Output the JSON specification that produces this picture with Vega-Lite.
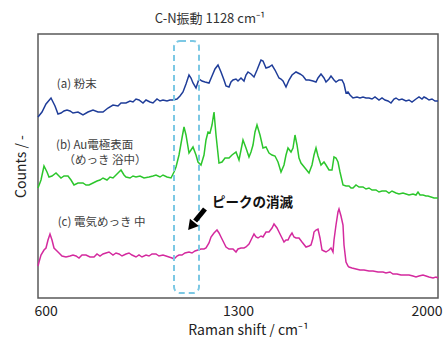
{
  "$schema": "https://vega.github.io/schema/vega-lite/v6.json",
  "width": 400,
  "height": 264,
  "autosize": {"type": "none"},
  "padding": {"left": 38, "top": 34, "right": 6, "bottom": 39},
  "title": {"text": "C-N振動 1128 cm⁻¹", "fontSize": 13, "fontWeight": "normal", "color": "#333333", "dx": -28, "offset": 8},
  "config": {
    "font": "Noto Sans CJK JP",
    "view": {"stroke": "#595959", "strokeWidth": 1.5},
    "axis": {"grid": false, "labelColor": "#222222", "titleColor": "#222222"}
  },
  "datasets": {
    "spectra": [
      {"s":"a","x":600,"y":181},{"s":"a","x":614,"y":186},{"s":"a","x":628,"y":194},{"s":"a","x":645.5,"y":200},{"s":"a","x":659.5,"y":192},{"s":"a","x":670,"y":184},{"s":"a","x":680.5,"y":185},{"s":"a","x":691,"y":187},{"s":"a","x":701.5,"y":188},{"s":"a","x":712,"y":187},{"s":"a","x":722.5,"y":185},{"s":"a","x":740,"y":186},{"s":"a","x":757.5,"y":183},{"s":"a","x":775,"y":186},{"s":"a","x":792.5,"y":188},{"s":"a","x":810,"y":186},{"s":"a","x":827.5,"y":186},{"s":"a","x":845,"y":190},{"s":"a","x":862.5,"y":193},{"s":"a","x":880,"y":192},{"s":"a","x":890.5,"y":195},{"s":"a","x":908,"y":195},{"s":"a","x":922,"y":197},{"s":"a","x":932.5,"y":196},{"s":"a","x":943,"y":199},{"s":"a","x":953.5,"y":198},{"s":"a","x":967.5,"y":195},{"s":"a","x":978,"y":198},{"s":"a","x":992,"y":196},{"s":"a","x":1002.5,"y":195},{"s":"a","x":1016.5,"y":199},{"s":"a","x":1027,"y":197},{"s":"a","x":1037.5,"y":198},{"s":"a","x":1051.5,"y":197},{"s":"a","x":1062,"y":198},{"s":"a","x":1072.5,"y":198},{"s":"a","x":1086.5,"y":199},{"s":"a","x":1097,"y":202},{"s":"a","x":1107.5,"y":206},{"s":"a","x":1118,"y":214},{"s":"a","x":1128.5,"y":223},{"s":"a","x":1135.5,"y":220},{"s":"a","x":1142.5,"y":215},{"s":"a","x":1153,"y":210},{"s":"a","x":1163.5,"y":219},{"s":"a","x":1174,"y":217},{"s":"a","x":1184.5,"y":216},{"s":"a","x":1198.5,"y":215},{"s":"a","x":1209,"y":222},{"s":"a","x":1219.5,"y":229},{"s":"a","x":1230,"y":233},{"s":"a","x":1240.5,"y":226},{"s":"a","x":1251,"y":218},{"s":"a","x":1258,"y":212},{"s":"a","x":1268.5,"y":211},{"s":"a","x":1275.5,"y":216},{"s":"a","x":1282.5,"y":218},{"s":"a","x":1293,"y":219},{"s":"a","x":1300,"y":217},{"s":"a","x":1310.5,"y":220},{"s":"a","x":1321,"y":217},{"s":"a","x":1328,"y":223},{"s":"a","x":1335,"y":226},{"s":"a","x":1345.5,"y":224},{"s":"a","x":1356,"y":221},{"s":"a","x":1366.5,"y":228},{"s":"a","x":1373.5,"y":233},{"s":"a","x":1380.5,"y":238},{"s":"a","x":1387.5,"y":237},{"s":"a","x":1398,"y":230},{"s":"a","x":1408.5,"y":231},{"s":"a","x":1419,"y":233},{"s":"a","x":1429.5,"y":228},{"s":"a","x":1443.5,"y":220},{"s":"a","x":1450.5,"y":219},{"s":"a","x":1457.5,"y":217},{"s":"a","x":1468,"y":211},{"s":"a","x":1478.5,"y":218},{"s":"a","x":1489,"y":223},{"s":"a","x":1503,"y":226},{"s":"a","x":1517,"y":224},{"s":"a","x":1527.5,"y":222},{"s":"a","x":1538,"y":218},{"s":"a","x":1548.5,"y":218},{"s":"a","x":1562.5,"y":217},{"s":"a","x":1573,"y":216},{"s":"a","x":1580,"y":220},{"s":"a","x":1590.5,"y":224},{"s":"a","x":1601,"y":220},{"s":"a","x":1608,"y":216},{"s":"a","x":1618.5,"y":219},{"s":"a","x":1625.5,"y":222},{"s":"a","x":1636,"y":218},{"s":"a","x":1643,"y":216},{"s":"a","x":1653.5,"y":218},{"s":"a","x":1664,"y":218},{"s":"a","x":1671,"y":214},{"s":"a","x":1678,"y":205},{"s":"a","x":1685,"y":206},{"s":"a","x":1692,"y":203},{"s":"a","x":1702.5,"y":200},{"s":"a","x":1716.5,"y":201},{"s":"a","x":1727,"y":200},{"s":"a","x":1737.5,"y":201},{"s":"a","x":1748,"y":200},{"s":"a","x":1758.5,"y":200},{"s":"a","x":1769,"y":199},{"s":"a","x":1779.5,"y":201},{"s":"a","x":1793.5,"y":198},{"s":"a","x":1804,"y":200},{"s":"a","x":1814.5,"y":198},{"s":"a","x":1825,"y":197},{"s":"a","x":1835.5,"y":195},{"s":"a","x":1846,"y":199},{"s":"a","x":1853,"y":200},{"s":"a","x":1863.5,"y":198},{"s":"a","x":1874,"y":199},{"s":"a","x":1888,"y":197},{"s":"a","x":1898.5,"y":198},{"s":"a","x":1909,"y":196},{"s":"a","x":1923,"y":199},{"s":"a","x":1933.5,"y":201},{"s":"a","x":1944,"y":199},{"s":"a","x":1951,"y":201},{"s":"a","x":1958,"y":200},{"s":"a","x":1968.5,"y":198},{"s":"a","x":1979,"y":199},{"s":"a","x":1989.5,"y":197},{"s":"a","x":2000,"y":197},
      {"s":"b","x":600,"y":110},{"s":"b","x":610.5,"y":118},{"s":"b","x":621,"y":132},{"s":"b","x":631.5,"y":126},{"s":"b","x":638.5,"y":121},{"s":"b","x":649,"y":122},{"s":"b","x":663,"y":125},{"s":"b","x":673.5,"y":122},{"s":"b","x":680.5,"y":120},{"s":"b","x":691,"y":122},{"s":"b","x":705,"y":122},{"s":"b","x":715.5,"y":118},{"s":"b","x":726,"y":113},{"s":"b","x":740,"y":115},{"s":"b","x":757.5,"y":115},{"s":"b","x":768,"y":113},{"s":"b","x":778.5,"y":113},{"s":"b","x":792.5,"y":115},{"s":"b","x":806.5,"y":117},{"s":"b","x":817,"y":118},{"s":"b","x":827.5,"y":120},{"s":"b","x":841.5,"y":118},{"s":"b","x":852,"y":121},{"s":"b","x":862.5,"y":120},{"s":"b","x":873,"y":123},{"s":"b","x":883.5,"y":126},{"s":"b","x":890.5,"y":128},{"s":"b","x":901,"y":123},{"s":"b","x":908,"y":121},{"s":"b","x":922,"y":120},{"s":"b","x":932.5,"y":122},{"s":"b","x":943,"y":121},{"s":"b","x":957,"y":122},{"s":"b","x":971,"y":120},{"s":"b","x":988.5,"y":121},{"s":"b","x":1002.5,"y":122},{"s":"b","x":1013,"y":123},{"s":"b","x":1027,"y":121},{"s":"b","x":1037.5,"y":123},{"s":"b","x":1051.5,"y":121},{"s":"b","x":1065.5,"y":120},{"s":"b","x":1076,"y":126},{"s":"b","x":1083,"y":131},{"s":"b","x":1093.5,"y":143},{"s":"b","x":1104,"y":160},{"s":"b","x":1111,"y":171},{"s":"b","x":1118,"y":163},{"s":"b","x":1128.5,"y":145},{"s":"b","x":1135.5,"y":148},{"s":"b","x":1142.5,"y":151},{"s":"b","x":1153,"y":143},{"s":"b","x":1160,"y":136},{"s":"b","x":1170.5,"y":133},{"s":"b","x":1181,"y":143},{"s":"b","x":1188,"y":158},{"s":"b","x":1195,"y":166},{"s":"b","x":1202,"y":165},{"s":"b","x":1209,"y":173},{"s":"b","x":1216,"y":186},{"s":"b","x":1223,"y":163},{"s":"b","x":1233.5,"y":135},{"s":"b","x":1244,"y":136},{"s":"b","x":1254.5,"y":140},{"s":"b","x":1268.5,"y":140},{"s":"b","x":1279,"y":143},{"s":"b","x":1293,"y":146},{"s":"b","x":1303.5,"y":138},{"s":"b","x":1310.5,"y":148},{"s":"b","x":1317.5,"y":158},{"s":"b","x":1328,"y":150},{"s":"b","x":1338.5,"y":141},{"s":"b","x":1345.5,"y":146},{"s":"b","x":1352.5,"y":153},{"s":"b","x":1359.5,"y":166},{"s":"b","x":1366.5,"y":173},{"s":"b","x":1377,"y":163},{"s":"b","x":1387.5,"y":150},{"s":"b","x":1398,"y":151},{"s":"b","x":1408.5,"y":145},{"s":"b","x":1419,"y":143},{"s":"b","x":1429.5,"y":142},{"s":"b","x":1440,"y":136},{"s":"b","x":1450.5,"y":126},{"s":"b","x":1461,"y":133},{"s":"b","x":1468,"y":143},{"s":"b","x":1475,"y":150},{"s":"b","x":1485.5,"y":146},{"s":"b","x":1492.5,"y":150},{"s":"b","x":1499.5,"y":163},{"s":"b","x":1506.5,"y":153},{"s":"b","x":1513.5,"y":140},{"s":"b","x":1520.5,"y":135},{"s":"b","x":1534.5,"y":130},{"s":"b","x":1548.5,"y":125},{"s":"b","x":1559,"y":133},{"s":"b","x":1566,"y":143},{"s":"b","x":1573,"y":150},{"s":"b","x":1580,"y":142},{"s":"b","x":1590.5,"y":133},{"s":"b","x":1601,"y":136},{"s":"b","x":1608,"y":133},{"s":"b","x":1618.5,"y":128},{"s":"b","x":1629,"y":128},{"s":"b","x":1636,"y":141},{"s":"b","x":1643,"y":140},{"s":"b","x":1650,"y":136},{"s":"b","x":1657,"y":126},{"s":"b","x":1667.5,"y":113},{"s":"b","x":1678,"y":112},{"s":"b","x":1688.5,"y":112},{"s":"b","x":1695.5,"y":110},{"s":"b","x":1702.5,"y":110},{"s":"b","x":1713,"y":113},{"s":"b","x":1723.5,"y":111},{"s":"b","x":1737.5,"y":111},{"s":"b","x":1748,"y":109},{"s":"b","x":1758.5,"y":110},{"s":"b","x":1769,"y":108},{"s":"b","x":1783,"y":108},{"s":"b","x":1793.5,"y":106},{"s":"b","x":1804,"y":107},{"s":"b","x":1818,"y":107},{"s":"b","x":1828.5,"y":105},{"s":"b","x":1839,"y":107},{"s":"b","x":1853,"y":105},{"s":"b","x":1863.5,"y":104},{"s":"b","x":1877.5,"y":105},{"s":"b","x":1888,"y":104},{"s":"b","x":1898.5,"y":103},{"s":"b","x":1912.5,"y":104},{"s":"b","x":1923,"y":103},{"s":"b","x":1930,"y":106},{"s":"b","x":1937,"y":103},{"s":"b","x":1947.5,"y":103},{"s":"b","x":1958,"y":102},{"s":"b","x":1965,"y":102},{"s":"b","x":1975.5,"y":101},{"s":"b","x":1986,"y":100},{"s":"b","x":2000,"y":100},
      {"s":"c","x":600,"y":32},{"s":"c","x":603.5,"y":36},{"s":"c","x":610.5,"y":43},{"s":"c","x":621,"y":48},{"s":"c","x":628,"y":50},{"s":"c","x":635,"y":58},{"s":"c","x":642,"y":64},{"s":"c","x":649,"y":58},{"s":"c","x":656,"y":50},{"s":"c","x":666.5,"y":47},{"s":"c","x":673.5,"y":45},{"s":"c","x":684,"y":42},{"s":"c","x":698,"y":41},{"s":"c","x":712,"y":42},{"s":"c","x":722.5,"y":43},{"s":"c","x":733,"y":42},{"s":"c","x":743.5,"y":40},{"s":"c","x":754,"y":43},{"s":"c","x":768,"y":43},{"s":"c","x":782,"y":41},{"s":"c","x":796,"y":41},{"s":"c","x":806.5,"y":44},{"s":"c","x":817,"y":42},{"s":"c","x":827.5,"y":44},{"s":"c","x":838,"y":45},{"s":"c","x":848.5,"y":46},{"s":"c","x":862.5,"y":43},{"s":"c","x":873,"y":45},{"s":"c","x":883.5,"y":44},{"s":"c","x":894,"y":42},{"s":"c","x":908,"y":44},{"s":"c","x":918.5,"y":45},{"s":"c","x":929,"y":43},{"s":"c","x":943,"y":41},{"s":"c","x":953.5,"y":43},{"s":"c","x":964,"y":41},{"s":"c","x":978,"y":43},{"s":"c","x":988.5,"y":42},{"s":"c","x":999,"y":44},{"s":"c","x":1013,"y":44},{"s":"c","x":1023.5,"y":42},{"s":"c","x":1037.5,"y":43},{"s":"c","x":1048,"y":42},{"s":"c","x":1058.5,"y":41},{"s":"c","x":1069,"y":40},{"s":"c","x":1076,"y":39},{"s":"c","x":1086.5,"y":42},{"s":"c","x":1093.5,"y":43},{"s":"c","x":1104,"y":43},{"s":"c","x":1114.5,"y":45},{"s":"c","x":1128.5,"y":46},{"s":"c","x":1139,"y":45},{"s":"c","x":1149.5,"y":47},{"s":"c","x":1160,"y":48},{"s":"c","x":1170.5,"y":49},{"s":"c","x":1181,"y":49},{"s":"c","x":1188,"y":50},{"s":"c","x":1198.5,"y":55},{"s":"c","x":1205.5,"y":61},{"s":"c","x":1216,"y":65},{"s":"c","x":1226.5,"y":68},{"s":"c","x":1233.5,"y":65},{"s":"c","x":1240.5,"y":61},{"s":"c","x":1251,"y":55},{"s":"c","x":1258,"y":51},{"s":"c","x":1268.5,"y":49},{"s":"c","x":1282.5,"y":49},{"s":"c","x":1293,"y":46},{"s":"c","x":1300,"y":49},{"s":"c","x":1310.5,"y":50},{"s":"c","x":1321,"y":50},{"s":"c","x":1328,"y":51},{"s":"c","x":1338.5,"y":54},{"s":"c","x":1345.5,"y":58},{"s":"c","x":1356,"y":64},{"s":"c","x":1363,"y":61},{"s":"c","x":1370,"y":60},{"s":"c","x":1380.5,"y":62},{"s":"c","x":1387.5,"y":61},{"s":"c","x":1398,"y":66},{"s":"c","x":1408.5,"y":66},{"s":"c","x":1419,"y":70},{"s":"c","x":1426,"y":74},{"s":"c","x":1436.5,"y":70},{"s":"c","x":1443.5,"y":66},{"s":"c","x":1454,"y":60},{"s":"c","x":1461,"y":56},{"s":"c","x":1468,"y":58},{"s":"c","x":1475,"y":58},{"s":"c","x":1482,"y":62},{"s":"c","x":1489,"y":65},{"s":"c","x":1496,"y":61},{"s":"c","x":1503,"y":60},{"s":"c","x":1513.5,"y":60},{"s":"c","x":1524,"y":56},{"s":"c","x":1538,"y":51},{"s":"c","x":1548.5,"y":52},{"s":"c","x":1555.5,"y":53},{"s":"c","x":1562.5,"y":60},{"s":"c","x":1566,"y":66},{"s":"c","x":1573,"y":68},{"s":"c","x":1580,"y":69},{"s":"c","x":1587,"y":60},{"s":"c","x":1594,"y":48},{"s":"c","x":1601,"y":47},{"s":"c","x":1608,"y":46},{"s":"c","x":1618.5,"y":48},{"s":"c","x":1625.5,"y":50},{"s":"c","x":1632.5,"y":46},{"s":"c","x":1636,"y":58},{"s":"c","x":1643,"y":73},{"s":"c","x":1650,"y":86},{"s":"c","x":1653.5,"y":89},{"s":"c","x":1660.5,"y":82},{"s":"c","x":1667.5,"y":73},{"s":"c","x":1671,"y":53},{"s":"c","x":1678,"y":36},{"s":"c","x":1685,"y":32},{"s":"c","x":1688.5,"y":31},{"s":"c","x":1699,"y":30},{"s":"c","x":1713,"y":29},{"s":"c","x":1727,"y":28},{"s":"c","x":1741,"y":28},{"s":"c","x":1758.5,"y":27},{"s":"c","x":1772.5,"y":27},{"s":"c","x":1790,"y":26},{"s":"c","x":1807.5,"y":26},{"s":"c","x":1818,"y":25},{"s":"c","x":1832,"y":26},{"s":"c","x":1842.5,"y":24},{"s":"c","x":1856.5,"y":24},{"s":"c","x":1870.5,"y":23},{"s":"c","x":1888,"y":23},{"s":"c","x":1898.5,"y":23},{"s":"c","x":1912.5,"y":22},{"s":"c","x":1923,"y":21},{"s":"c","x":1933.5,"y":22},{"s":"c","x":1947.5,"y":23},{"s":"c","x":1958,"y":22},{"s":"c","x":1968.5,"y":21},{"s":"c","x":1982.5,"y":20},{"s":"c","x":1993,"y":21},{"s":"c","x":2000,"y":20}
    ],
    "labels": [
      {"t": "(a) 粉末", "x": 666, "y": 213},
      {"t": "(b) Au電極表面", "x": 663, "y": 152},
      {"t": "（めっき 浴中）", "x": 689, "y": 137},
      {"t": "(c) 電気めっき 中", "x": 669, "y": 75}
    ],
    "box": [{"x": 1076, "x2": 1163.5, "y": 5, "y2": 257}],
    "note": [{"t": "ピークの消滅", "x": 1209, "y": 95}],
    "arrow": [{"x": 1184.5, "y": 89, "x2": 1150, "y2": 77}],
    "head": [{"x": 1140, "y": 73}]
  },
  "layer": [
    {
      "data": {"name": "spectra"},
      "mark": {"type": "line", "strokeWidth": 1.5},
      "encoding": {
        "x": {"field": "x", "type": "quantitative", "scale": {"domain": [600, 2000], "nice": false, "zero": false},
          "axis": {"values": [600, 1300, 2000], "format": "d", "title": "Raman shift / cm⁻¹", "labelFlush": true, "labelFlushOffset": 4, "ticks": false, "domain": false, "labelFontSize": 14, "titleFontSize": 14, "titleFontWeight": "normal", "labelPadding": 6, "titlePadding": 5, "titleX": 210}},
        "y": {"field": "y", "type": "quantitative", "scale": {"domain": [0, 264], "nice": false},
          "axis": {"labels": false, "ticks": false, "domain": false, "title": "Counts / -", "titleFontSize": 14, "titleFontWeight": "normal", "titlePadding": 10}},
        "color": {"field": "s", "type": "nominal", "scale": {"domain": ["a", "b", "c"], "range": ["#1f3d99", "#2cc62c", "#d42a9e"]}, "legend": null}
      }
    },
    {
      "data": {"name": "box"},
      "mark": {"type": "rect", "fillOpacity": 0, "stroke": "#7cc8e4", "strokeWidth": 2, "strokeDash": [6, 4], "cornerRadius": 6},
      "encoding": {
        "x": {"field": "x", "type": "quantitative"},
        "x2": {"field": "x2"},
        "y": {"field": "y", "type": "quantitative"},
        "y2": {"field": "y2"}
      }
    },
    {
      "data": {"name": "labels"},
      "mark": {"type": "text", "align": "left", "baseline": "middle", "fontSize": 11.5, "color": "#404040"},
      "encoding": {
        "x": {"field": "x", "type": "quantitative"},
        "y": {"field": "y", "type": "quantitative"},
        "text": {"field": "t"}
      }
    },
    {
      "data": {"name": "note"},
      "mark": {"type": "text", "align": "left", "baseline": "middle", "fontSize": 13.5, "fontWeight": "bold", "color": "#111111"},
      "encoding": {
        "x": {"field": "x", "type": "quantitative"},
        "y": {"field": "y", "type": "quantitative"},
        "text": {"field": "t"}
      }
    },
    {
      "data": {"name": "arrow"},
      "mark": {"type": "rule", "strokeWidth": 5, "color": "#000000"},
      "encoding": {
        "x": {"field": "x", "type": "quantitative"},
        "y": {"field": "y", "type": "quantitative"},
        "x2": {"field": "x2"},
        "y2": {"field": "y2"}
      }
    },
    {
      "data": {"name": "head"},
      "mark": {"type": "point", "shape": "triangle", "filled": true, "opacity": 1, "color": "#000000", "size": 130, "angle": 219},
      "encoding": {
        "x": {"field": "x", "type": "quantitative"},
        "y": {"field": "y", "type": "quantitative"}
      }
    }
  ]
}
